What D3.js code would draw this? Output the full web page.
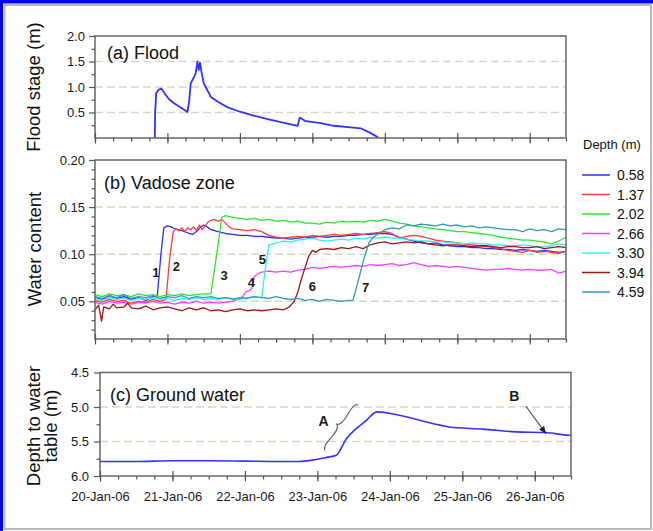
<!DOCTYPE html>
<head>
  <meta charset="utf-8">
  <script src="https://d3js.org/d3.v7.min.js"></script>
  <style>
    body { margin:0; background:#fff; }
    svg { display:block; font-family:"Liberation Sans", Arial, sans-serif; }
  </style>
</head>
<body>
<script>
var width = 653, height = 531;

// times are days after 20-Jan-06 00:00
var floodDays  = [0.825,0.83,0.845,0.88,0.917,0.963,1.022,1.091,1.183,1.276,1.298,1.321,1.367,1.39,1.414,1.425,1.432,1.45,1.469,1.501,1.542,1.597,1.694,1.832,2.011,2.19,2.383,2.563,2.797,2.825,2.908,3.114,3.294,3.528,3.666,3.8,3.91];
var floodStage = [0,0.5,0.88,0.95,0.97,0.87,0.76,0.68,0.6,0.51,0.7,1.07,1.2,1.27,1.5,1.38,1.33,1.48,1.3,1.07,0.96,0.81,0.71,0.6,0.51,0.44,0.37,0.31,0.24,0.4,0.33,0.29,0.24,0.21,0.19,0.1,0.01];

var gwDays  = [0,0.5,1.0,1.5,2.0,2.5,2.75,2.93,3.13,3.26,3.4,3.54,3.68,3.78,3.82,4.13,4.59,4.82,5.28,5.74,6.16,6.47,6.5];
var gwDepth = [5.79,5.79,5.78,5.78,5.785,5.79,5.79,5.77,5.73,5.70,5.46,5.31,5.19,5.09,5.07,5.12,5.24,5.29,5.32,5.36,5.37,5.41,5.41];

var depthLabels = ["0.58","1.37","2.02","2.66","3.30","3.94","4.59"];
var depthColors = ["#2b2bff","#ff3b3b","#2ee52e","#ff3cff","#2ff0f0","#a01414","#3399bb"];

var wc058 = [[0,0.054],[0.1,0.052],[0.2,0.056],[0.3,0.053],[0.4,0.055],[0.5,0.052],[0.6,0.054],[0.7,0.051],[0.8,0.055],[0.86,0.056],[0.91,0.1],[0.95,0.128],[1.0,0.130],[1.05,0.129],[1.1,0.127],[1.2,0.125],[1.3,0.122],[1.35,0.121],[1.4,0.124],[1.45,0.128],[1.5,0.131],[1.55,0.129],[1.6,0.126],[1.7,0.124],[1.8,0.122],[1.9,0.121],[2.0,0.12],[2.1,0.12],[2.2,0.119],[2.3,0.119],[2.4,0.118],[2.5,0.117],[2.6,0.117],[2.7,0.116],[2.8,0.117],[2.9,0.118],[3.0,0.118],[3.1,0.119],[3.2,0.118],[3.3,0.119],[3.4,0.119],[3.5,0.12],[3.6,0.12],[3.7,0.121],[3.8,0.121],[3.9,0.122],[4.0,0.122],[4.1,0.121],[4.2,0.118],[4.3,0.116],[4.4,0.114],[4.5,0.112],[4.6,0.111],[4.7,0.112],[4.8,0.11],[4.9,0.109],[5.0,0.108],[5.1,0.108],[5.2,0.107],[5.3,0.107],[5.4,0.106],[5.5,0.106],[5.6,0.105],[5.7,0.105],[5.8,0.104],[5.9,0.105],[6.0,0.104],[6.1,0.103],[6.2,0.104],[6.3,0.103],[6.4,0.102],[6.5,0.103]];
var wc137 = [[0,0.051],[0.1,0.049],[0.2,0.052],[0.3,0.05],[0.4,0.051],[0.5,0.048],[0.6,0.05],[0.7,0.049],[0.8,0.052],[0.9,0.05],[0.98,0.052],[1.03,0.095],[1.08,0.124],[1.12,0.127],[1.16,0.125],[1.2,0.128],[1.24,0.124],[1.28,0.128],[1.32,0.126],[1.36,0.129],[1.4,0.125],[1.44,0.131],[1.48,0.126],[1.52,0.13],[1.56,0.134],[1.6,0.136],[1.65,0.137],[1.7,0.135],[1.75,0.137],[1.8,0.133],[1.85,0.129],[1.9,0.127],[2.0,0.126],[2.1,0.125],[2.2,0.126],[2.3,0.124],[2.4,0.12],[2.5,0.118],[2.6,0.117],[2.7,0.118],[2.8,0.119],[2.9,0.118],[3.0,0.12],[3.1,0.119],[3.2,0.12],[3.3,0.121],[3.4,0.12],[3.5,0.121],[3.6,0.122],[3.7,0.121],[3.8,0.122],[3.9,0.123],[4.0,0.124],[4.1,0.122],[4.2,0.117],[4.3,0.119],[4.4,0.12],[4.5,0.119],[4.6,0.117],[4.7,0.115],[4.8,0.114],[4.9,0.113],[5.0,0.112],[5.1,0.111],[5.2,0.11],[5.3,0.109],[5.4,0.108],[5.5,0.107],[5.6,0.106],[5.7,0.104],[5.8,0.103],[5.9,0.102],[6.0,0.104],[6.1,0.102],[6.2,0.103],[6.3,0.102],[6.4,0.101],[6.5,0.103]];
var wc202 = [[0,0.057],[0.1,0.055],[0.2,0.058],[0.3,0.056],[0.4,0.057],[0.5,0.055],[0.6,0.058],[0.7,0.056],[0.8,0.057],[0.9,0.055],[1.0,0.057],[1.1,0.056],[1.2,0.058],[1.3,0.056],[1.4,0.057],[1.5,0.058],[1.6,0.058],[1.68,0.1],[1.75,0.139],[1.8,0.141],[1.9,0.139],[2.0,0.138],[2.1,0.137],[2.2,0.138],[2.3,0.136],[2.4,0.137],[2.5,0.135],[2.6,0.136],[2.7,0.134],[2.8,0.135],[2.9,0.133],[3.0,0.133],[3.1,0.132],[3.2,0.134],[3.3,0.133],[3.4,0.135],[3.5,0.134],[3.6,0.135],[3.7,0.134],[3.8,0.136],[3.9,0.135],[4.0,0.137],[4.1,0.135],[4.2,0.133],[4.3,0.132],[4.4,0.13],[4.5,0.129],[4.6,0.128],[4.7,0.127],[4.8,0.126],[4.9,0.125],[5.0,0.124],[5.1,0.124],[5.2,0.123],[5.3,0.122],[5.4,0.121],[5.5,0.12],[5.6,0.118],[5.7,0.117],[5.8,0.116],[5.9,0.115],[6.0,0.115],[6.1,0.114],[6.2,0.113],[6.3,0.111],[6.4,0.114],[6.5,0.118]];
var wc266 = [[0,0.049],[0.1,0.047],[0.2,0.05],[0.3,0.048],[0.4,0.049],[0.5,0.047],[0.6,0.049],[0.7,0.048],[0.8,0.05],[0.9,0.048],[1.0,0.049],[1.1,0.047],[1.2,0.049],[1.3,0.048],[1.4,0.05],[1.5,0.048],[1.6,0.049],[1.7,0.048],[1.8,0.049],[1.9,0.05],[1.97,0.052],[2.04,0.055],[2.08,0.06],[2.12,0.061],[2.16,0.063],[2.2,0.076],[2.24,0.079],[2.3,0.081],[2.4,0.082],[2.5,0.081],[2.6,0.082],[2.7,0.081],[2.8,0.083],[2.9,0.084],[3.0,0.086],[3.1,0.085],[3.2,0.086],[3.3,0.087],[3.4,0.086],[3.5,0.087],[3.6,0.088],[3.7,0.087],[3.8,0.089],[3.9,0.088],[4.0,0.089],[4.1,0.09],[4.2,0.088],[4.3,0.089],[4.4,0.091],[4.5,0.089],[4.6,0.087],[4.7,0.088],[4.8,0.087],[4.9,0.086],[5.0,0.087],[5.1,0.086],[5.2,0.085],[5.3,0.084],[5.4,0.083],[5.5,0.084],[5.6,0.084],[5.7,0.085],[5.8,0.084],[5.9,0.083],[6.0,0.084],[6.1,0.083],[6.2,0.083],[6.3,0.084],[6.4,0.08],[6.5,0.082]];
var wc330 = [[0,0.053],[0.1,0.051],[0.2,0.054],[0.3,0.052],[0.4,0.053],[0.5,0.051],[0.6,0.053],[0.7,0.052],[0.8,0.054],[0.9,0.052],[1.0,0.053],[1.1,0.051],[1.2,0.053],[1.3,0.052],[1.4,0.054],[1.5,0.052],[1.6,0.053],[1.7,0.052],[1.8,0.054],[1.9,0.053],[2.0,0.052],[2.1,0.054],[2.2,0.055],[2.3,0.054],[2.36,0.09],[2.4,0.11],[2.5,0.112],[2.6,0.114],[2.7,0.113],[2.8,0.115],[2.9,0.116],[3.0,0.117],[3.1,0.115],[3.2,0.114],[3.3,0.115],[3.4,0.116],[3.5,0.115],[3.6,0.117],[3.7,0.116],[3.8,0.118],[3.9,0.117],[4.0,0.118],[4.1,0.117],[4.2,0.117],[4.3,0.116],[4.4,0.115],[4.5,0.114],[4.6,0.114],[4.7,0.113],[4.8,0.113],[4.9,0.112],[5.0,0.112],[5.1,0.111],[5.2,0.112],[5.3,0.111],[5.4,0.111],[5.5,0.11],[5.6,0.11],[5.7,0.109],[5.8,0.109],[5.9,0.11],[6.0,0.109],[6.1,0.108],[6.2,0.108],[6.3,0.109],[6.4,0.111],[6.5,0.11]];
var wc394 = [[0,0.041],[0.05,0.046],[0.09,0.029],[0.12,0.044],[0.2,0.042],[0.25,0.047],[0.3,0.043],[0.4,0.044],[0.45,0.048],[0.5,0.043],[0.6,0.042],[0.7,0.045],[0.8,0.041],[0.9,0.043],[1.0,0.044],[1.1,0.042],[1.2,0.04],[1.3,0.043],[1.4,0.041],[1.5,0.043],[1.6,0.04],[1.7,0.041],[1.8,0.039],[1.9,0.041],[2.0,0.042],[2.1,0.04],[2.2,0.041],[2.3,0.04],[2.4,0.041],[2.5,0.042],[2.6,0.041],[2.68,0.044],[2.75,0.05],[2.8,0.06],[2.85,0.074],[2.9,0.086],[2.95,0.098],[3.0,0.104],[3.05,0.102],[3.1,0.105],[3.2,0.106],[3.3,0.105],[3.4,0.107],[3.5,0.106],[3.6,0.108],[3.7,0.106],[3.8,0.11],[3.9,0.112],[4.0,0.113],[4.1,0.111],[4.2,0.112],[4.3,0.113],[4.4,0.112],[4.5,0.113],[4.6,0.111],[4.7,0.11],[4.8,0.109],[4.9,0.11],[5.0,0.11],[5.1,0.109],[5.2,0.108],[5.3,0.109],[5.4,0.109],[5.5,0.108],[5.6,0.107],[5.7,0.108],[5.8,0.108],[5.9,0.107],[6.0,0.107],[6.1,0.108],[6.2,0.106],[6.3,0.107],[6.4,0.108],[6.5,0.107]];
var wc459 = [[0,0.055],[0.1,0.053],[0.2,0.056],[0.3,0.054],[0.4,0.057],[0.5,0.053],[0.6,0.055],[0.7,0.054],[0.8,0.056],[0.9,0.053],[1.0,0.055],[1.1,0.054],[1.2,0.056],[1.3,0.053],[1.4,0.055],[1.5,0.054],[1.6,0.055],[1.7,0.053],[1.8,0.054],[1.9,0.052],[2.0,0.054],[2.1,0.053],[2.2,0.055],[2.3,0.054],[2.4,0.053],[2.5,0.055],[2.6,0.053],[2.7,0.052],[2.8,0.053],[2.9,0.051],[3.0,0.052],[3.1,0.05],[3.2,0.052],[3.3,0.051],[3.4,0.05],[3.5,0.051],[3.56,0.051],[3.62,0.068],[3.7,0.092],[3.78,0.112],[3.84,0.118],[3.92,0.122],[4.0,0.126],[4.1,0.128],[4.2,0.127],[4.3,0.131],[4.4,0.13],[4.5,0.132],[4.6,0.131],[4.7,0.13],[4.8,0.132],[4.9,0.13],[5.0,0.131],[5.1,0.129],[5.2,0.13],[5.3,0.128],[5.4,0.129],[5.5,0.128],[5.6,0.127],[5.7,0.126],[5.8,0.126],[5.9,0.124],[6.0,0.127],[6.1,0.125],[6.2,0.126],[6.3,0.124],[6.4,0.127],[6.5,0.126]];
var waterContent = [wc058, wc137, wc202, wc266, wc330, wc394, wc459];

// onset markers 1-7 in panel (b)
var onsetLabels = ["1","2","3","4","5","6","7"];
var onsetDays   = [0.839,1.124,1.781,2.159,2.31,3.0,3.735];
var onsetValues = [0.0806,0.0867,0.0771,0.0699,0.0949,0.0664,0.0645];

var dayTicks   = [0,1,2,3,4,5,6];
var floodTicks = [0.5,1.0,1.5,2.0];
var floodMinor = [0.25,0.75,1.25,1.75];
var wcTicks    = [0.05,0.10,0.15,0.20];
var wcMinor    = [0.02,0.03,0.04,0.06,0.07,0.08,0.09,0.11,0.12,0.13,0.14,0.16,0.17,0.18,0.19];
var gwTicks    = [4.5,5.0,5.5,6.0];
var gwMinor    = [4.75,5.25,5.75];

var t0 = Date.UTC(2006, 0, 20);
function toDate(d) { return new Date(t0 + d * 864e5); }

var svg = d3.select("body").append("svg")
  .attr("width", width)
  .attr("height", height);

// window frame
svg.append("rect").attr("x", 4.5).attr("y", 5).attr("width", 646.5).attr("height", 524)
  .attr("fill", "none").attr("stroke", "#b8b8b8").attr("stroke-width", 2);
svg.append("rect").attr("x", 0).attr("y", 0).attr("width", width).attr("height", 3.5).attr("fill", "#0000ff");
svg.append("rect").attr("x", 0).attr("y", 0).attr("width", 3).attr("height", height).attr("fill", "#0000ff");

var xa = d3.scaleUtc().domain([toDate(0), toDate(6.5)]).range([95, 566]);
var xc = d3.scaleUtc().domain([toDate(0), toDate(6.5)]).range([100, 571]);
var ya = d3.scaleLinear().domain([0, 2]).range([138, 36]);
var yb = d3.scaleLinear().domain([0.01, 0.2]).range([339, 160]);
var yc = d3.scaleLinear().domain([4.5, 6]).range([372.5, 476]);

var dayDates = dayTicks.map(toDate);
var fmtDate = d3.utcFormat("%d-%b-%y");

function grid(x, y, vals) {
  var r = x.range();
  svg.append("g").selectAll("line").data(vals).enter().append("line")
    .attr("x1", r[0]).attr("x2", r[1])
    .attr("y1", function(d){ return y(d); })
    .attr("y2", function(d){ return y(d); })
    .attr("stroke", "#d7d7c6").attr("stroke-width", 1.5)
    .attr("stroke-dasharray", "8,4");
}

function frame(x, y) {
  var rx = x.range(), ry = y.range();
  svg.append("rect")
    .attr("x", rx[0]).attr("y", Math.min(ry[0], ry[1]))
    .attr("width", rx[1] - rx[0]).attr("height", Math.abs(ry[1] - ry[0]))
    .attr("fill", "none").attr("stroke", "#666").attr("stroke-width", 1.5);
}

function styleAxis(g, size) {
  g.select(".domain").remove();
  g.selectAll("line").attr("stroke", "#555").attr("stroke-width", 1.2);
  g.selectAll("text").attr("fill", "#1a1a1a").style("font-size", size + "px")
    .style("font-family", "Liberation Sans, Arial, sans-serif");
}

function xAxis(x, yPos, labels) {
  var minor = svg.append("g").attr("transform", "translate(0," + yPos + ")")
    .call(d3.axisBottom(x).ticks(d3.utcHour.every(6)).tickSize(3.5).tickFormat(""));
  styleAxis(minor, 13);
  var inner = svg.append("g").attr("transform", "translate(0," + yPos + ")")
    .call(d3.axisTop(x).tickValues(dayDates).tickSize(5).tickFormat(""));
  styleAxis(inner, 13);
  var major = svg.append("g").attr("transform", "translate(0," + yPos + ")")
    .call(d3.axisBottom(x).tickValues(dayDates).tickSize(5.5).tickPadding(10)
      .tickFormat(labels ? fmtDate : ""));
  styleAxis(major, 13);
}

function yAxis(x, y, ticks, minorTicks, fmt, pad) {
  var xPos = x.range()[0];
  var minor = svg.append("g").attr("transform", "translate(" + xPos + ",0)")
    .call(d3.axisLeft(y).tickValues(minorTicks).tickSize(3.5).tickFormat(""));
  styleAxis(minor, 13);
  var major = svg.append("g").attr("transform", "translate(" + xPos + ",0)")
    .call(d3.axisLeft(y).tickValues(ticks).tickSize(6).tickPadding(pad).tickFormat(d3.format(fmt)));
  styleAxis(major, 13);
}

function panelTitle(x, y, txt) {
  svg.append("text").attr("x", x).attr("y", y).text(txt)
    .attr("fill", "#111").style("font-size", "18px");
}

function axisTitle(x, y, lines) {
  var t = svg.append("text")
    .attr("transform", "translate(" + x + "," + y + ") rotate(-90)")
    .attr("text-anchor", "middle").attr("fill", "#111").style("font-size", "18.5px");
  lines.forEach(function(l, i) {
    t.append("tspan").attr("x", 0).attr("dy", i === 0 ? 0 : "0.92em").text(l);
  });
}

// ---------- (a) flood ----------
grid(xa, ya, [0.5, 1.0, 1.5]);
var floodLine = d3.line()
  .x(function(d, i){ return xa(toDate(floodDays[i])); })
  .y(function(d){ return ya(d); });
svg.append("path").datum(floodStage).attr("d", floodLine)
  .attr("fill", "none").attr("stroke", "#3333ff").attr("stroke-width", 1.8)
  .attr("stroke-linejoin", "round");
frame(xa, ya);
xAxis(xa, 138, false);
yAxis(xa, ya, floodTicks, floodMinor, ".1f", 4);
panelTitle(107, 59, "(a) Flood");
axisTitle(40, 87, ["Flood stage (m)"]);

// ---------- (b) vadose zone ----------
grid(xa, yb, [0.05, 0.10, 0.15]);
var wcLine = d3.line()
  .x(function(d){ return xa(toDate(d[0])); })
  .y(function(d){ return yb(d[1]); });
svg.append("g").selectAll("path").data(waterContent).enter().append("path")
  .attr("d", wcLine).attr("fill", "none")
  .attr("stroke", function(d, i){ return depthColors[i]; })
  .attr("stroke-width", 1.3).attr("stroke-linejoin", "round");
frame(xa, yb);
xAxis(xa, 339, false);
yAxis(xa, yb, wcTicks, wcMinor, ".2f", 4);
panelTitle(104, 189, "(b) Vadose zone");
axisTitle(41, 249, ["Water content"]);

svg.append("g").selectAll("text").data(onsetLabels).enter().append("text")
  .attr("x", function(d, i){ return xa(toDate(onsetDays[i])); })
  .attr("y", function(d, i){ return yb(onsetValues[i]); })
  .attr("dy", "0.36em").attr("text-anchor", "middle")
  .attr("fill", "#1a1a1a").style("font-size", "13px").style("font-weight", "bold")
  .text(function(d){ return d; });

// legend
var legend = svg.append("g");
legend.append("text").attr("x", 583).attr("y", 149).text("Depth (m)")
  .attr("fill", "#111").style("font-size", "13px");
var li = legend.selectAll("g.item").data(depthLabels).enter().append("g")
  .attr("class", "item")
  .attr("transform", function(d, i){ return "translate(582," + (175 + i * 19.5) + ")"; });
li.append("line").attr("x1", 0).attr("x2", 28)
  .attr("stroke", function(d, i){ return depthColors[i]; }).attr("stroke-width", 1.5);
li.append("text").attr("x", 35).attr("dy", "0.36em").text(function(d){ return d; })
  .attr("fill", "#111").style("font-size", "14px");

// ---------- (c) ground water ----------
grid(xc, yc, [5.0, 5.5]);
var gwLine = d3.line()
  .x(function(d, i){ return xc(toDate(gwDays[i])); })
  .y(function(d){ return yc(d); })
  .curve(d3.curveMonotoneX);
svg.append("path").datum(gwDepth).attr("d", gwLine)
  .attr("fill", "none").attr("stroke", "#3333ff").attr("stroke-width", 1.6);
frame(xc, yc);
xAxis(xc, 476, true);
yAxis(xc, yc, gwTicks, gwMinor, ".1f", 5);
panelTitle(110, 401, "(c) Ground water");
axisTitle(40, 426, ["Depth to water", "table (m)"]);

// annotation A with brace, B with arrow
function brace(x1, y1, x2, y2, w, q) {
  var len = Math.sqrt((x1-x2)*(x1-x2) + (y1-y2)*(y1-y2));
  var dx = (x1-x2)/len, dy = (y1-y2)/len;
  var qx1 = x1 + q*w*dy, qy1 = y1 - q*w*dx;
  var qx2 = (x1 - .25*len*dx) + (1-q)*w*dy, qy2 = (y1 - .25*len*dy) - (1-q)*w*dx;
  var tx1 = (x1 - .5*len*dx) + w*dy, ty1 = (y1 - .5*len*dy) - w*dx;
  var qx3 = x2 + q*w*dy, qy3 = y2 - q*w*dx;
  var qx4 = (x1 - .75*len*dx) + (1-q)*w*dy, qy4 = (y1 - .75*len*dy) - (1-q)*w*dx;
  return "M" + x1 + "," + y1 + "Q" + qx1 + "," + qy1 + " " + qx2 + "," + qy2 + "T" + tx1 + "," + ty1 +
         "M" + x2 + "," + y2 + "Q" + qx3 + "," + qy3 + " " + qx4 + "," + qy4 + "T" + tx1 + "," + ty1;
}
svg.append("path")
  .attr("d", brace(xc(toDate(3.56)), yc(4.97), xc(toDate(3.11)), yc(5.63), 7, 0.6))
  .attr("fill", "none").attr("stroke", "#666").attr("stroke-width", 1.2);
svg.append("text").attr("x", xc(toDate(3.085))).attr("y", yc(5.204)).attr("dy", "0.36em")
  .attr("text-anchor", "middle").text("A")
  .attr("fill", "#1a1a1a").style("font-size", "14px").style("font-weight", "bold");
svg.append("text").attr("x", xc(toDate(5.716))).attr("y", yc(4.843)).attr("dy", "0.36em")
  .attr("text-anchor", "middle").text("B")
  .attr("fill", "#1a1a1a").style("font-size", "14px").style("font-weight", "bold");

svg.append("defs").append("marker").attr("id", "arr")
  .attr("viewBox", "0 0 10 10").attr("refX", 10).attr("refY", 5)
  .attr("markerWidth", 7).attr("markerHeight", 7).attr("orient", "auto")
  .append("path").attr("d", "M0,1L10,5L0,9Z").attr("fill", "#222");
svg.append("line")
  .attr("x1", xc(toDate(5.88))).attr("y1", yc(4.99))
  .attr("x2", xc(toDate(6.157))).attr("y2", yc(5.39))
  .attr("stroke", "#555").attr("stroke-width", 1.1).attr("marker-end", "url(#arr)");
</script>
</body>
